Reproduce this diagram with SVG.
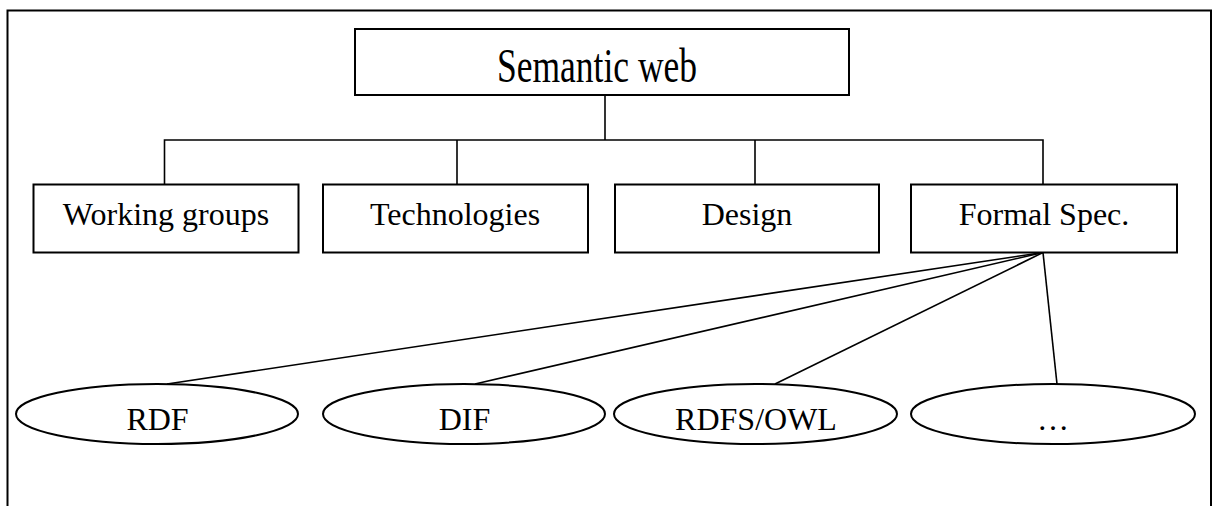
<svg xmlns="http://www.w3.org/2000/svg" width="1218" height="506" viewBox="0 0 1218 506">
  <style>
    .frame { fill: none; stroke: #000; stroke-width: 2; }
    .box { fill: #fff; stroke: #000; stroke-width: 2; }
    .link { fill: none; stroke: #000; stroke-width: 1.6; }
    .label { font-family: "Liberation Serif", "Times New Roman", serif; font-size: 32px; fill: #000; text-anchor: middle; }
    .title { font-size: 35.5px; }
  </style>
  <rect width="1218" height="506" fill="#fff"/>

  <!-- page frame, open at the bottom -->
  <path class="frame" d="M7.5,512 V10.5 H1211 V512"/>

  <!-- connectors -->
  <g id="connectors">
    <path class="link" d="M605,95 V140"/>
    <path class="link" d="M164.5,184 V140 H1043 V184"/>
    <path class="link" d="M457,140 V184"/>
    <path class="link" d="M755,140 V184"/>
    <path class="link" d="M1043,252.5 L167,384"/>
    <path class="link" d="M1043,252.5 L475,384"/>
    <path class="link" d="M1043,252.5 L775,384"/>
    <path class="link" d="M1043,252.5 L1057,384"/>
  </g>

  <g id="semantic-web">
    <rect class="box" x="355" y="29" width="494" height="66"/>
    <!-- title is set in a taller, narrower face -->
    <text class="label title" transform="translate(597,82) scale(1,1.38)">Semantic web</text>
  </g>

  <g id="working-groups">
    <rect class="box" x="33.5" y="184.5" width="265" height="68"/>
    <text class="label" x="166" y="225">Working groups</text>
  </g>
  <g id="technologies">
    <rect class="box" x="323" y="184.5" width="265" height="68"/>
    <text class="label" x="455" y="225">Technologies</text>
  </g>
  <g id="design">
    <rect class="box" x="615" y="184.5" width="264" height="68"/>
    <text class="label" x="747" y="225">Design</text>
  </g>
  <g id="formal-spec">
    <rect class="box" x="911" y="184.5" width="266" height="68"/>
    <text class="label" x="1044" y="225">Formal Spec.</text>
  </g>

  <g id="rdf">
    <ellipse class="box" cx="157" cy="414" rx="141" ry="30"/>
    <text class="label" x="157.5" y="430">RDF</text>
  </g>
  <g id="dif">
    <ellipse class="box" cx="464" cy="414" rx="141" ry="30"/>
    <text class="label" x="464.5" y="430">DIF</text>
  </g>
  <g id="rdfs-owl">
    <ellipse class="box" cx="755.5" cy="414" rx="141.5" ry="30"/>
    <text class="label" x="756" y="430">RDFS/OWL</text>
  </g>
  <g id="more">
    <ellipse class="box" cx="1053" cy="414" rx="142" ry="30"/>
    <text class="label" x="1053" y="430">…</text>
  </g>
</svg>
